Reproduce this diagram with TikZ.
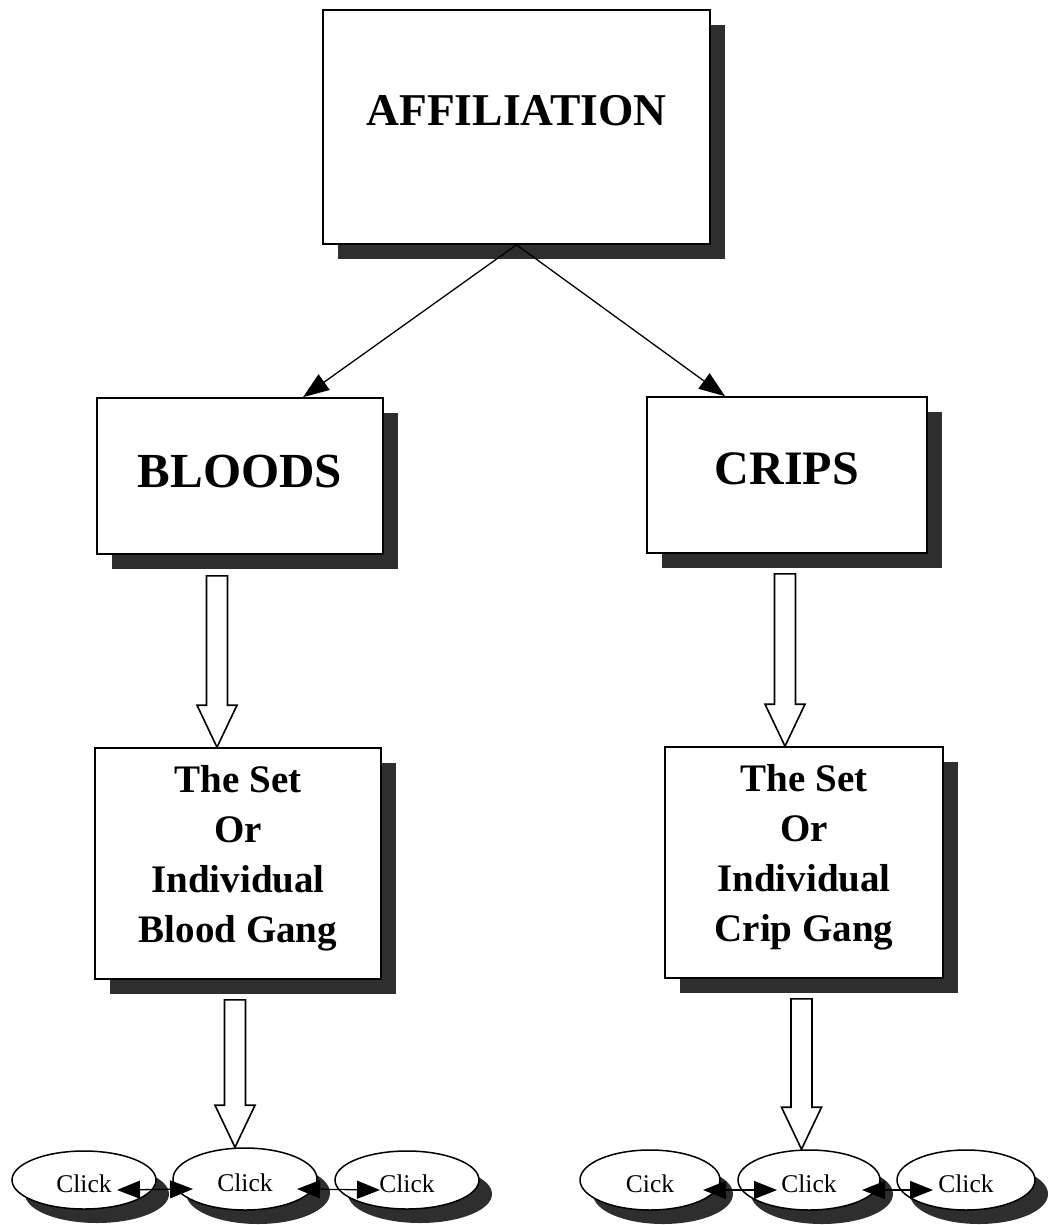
\documentclass[tikz,border=0pt]{standalone}
\usepackage{fontspec}
\setmainfont{Liberation Serif}
\usetikzlibrary{calc,arrows.meta,shapes.geometric,shadows}
\newcommand{\hollowarrow}[2]{%
  \draw[hollow] ($(#1)+(-10.5,0)$) -- ($(#1)+(10.5,0)$) -- ($(#2)+(10.5,-42)$)
    -- ($(#2)+(20,-42)$) -- (#2) -- ($(#2)+(-20,-42)$) -- ($(#2)+(-10.5,-42)$) -- cycle;}
\begin{document}
\begin{tikzpicture}[x=1pt,y=-1pt,
  boxshade/.style={drop shadow={shadow xshift=15pt,shadow yshift=-15pt,fill=black!82,opacity=1}},
  ovalshade/.style={drop shadow={shadow xshift=13pt,shadow yshift=-14pt,fill=black!82,opacity=1}},
  box/.style={draw=black,line width=1.6pt,fill=white,rectangle,inner sep=0pt,align=center,boxshade},
  settext/.style={font=\bfseries\fontsize{39}{50}\selectfont,text depth=20pt},
  oval/.style={draw=black,line width=1.5pt,fill=white,ellipse,inner sep=0pt,
    font=\fontsize{25.5}{27}\selectfont,text height=25pt,ovalshade},
  thinarr/.style={line width=1.3pt,-{Triangle[length=26pt,width=19pt]}},
  biarr/.style={line width=1.3pt,{Triangle[length=23pt,width=18pt]}-{Triangle[length=23pt,width=18pt]}},
  hollow/.style={draw=black,line width=1.6pt,fill=white,line join=miter}
]
\useasboundingbox (0,0) rectangle (1048,1225);

% top box
\node[box,minimum width=387pt,minimum height=234pt,
  font=\bfseries\fontsize{45.5}{50}\selectfont,text depth=34pt] (aff) at (516.5,127) {AFFILIATION};

% second level
\node[box,minimum width=286pt,minimum height=156pt,
  font=\bfseries\fontsize{49}{54}\selectfont,text depth=10pt] (bl) at (240,476) {BLOODS};
\node[box,minimum width=280pt,minimum height=156pt,
  font=\bfseries\fontsize{48}{54}\selectfont,text depth=12pt] (cr) at (787,475) {CRIPS};

% third level
\node[box,settext,minimum width=286pt,minimum height=231pt] (setl) at (238,863.5)
  {The Set\\Or\\Individual\\Blood Gang};
\node[box,settext,minimum width=278pt,minimum height=231pt] (setr) at (804,862.5)
  {The Set\\Or\\Individual\\Crip Gang};

% ovals left
\node[oval,minimum width=144pt,minimum height=58pt] (l1) at (84,1180) {Click};
\node[oval,minimum width=144pt,minimum height=62pt] (l2) at (245,1179) {Click};
\node[oval,minimum width=144pt,minimum height=58pt] (l3) at (407,1180) {Click};
% ovals right
\node[oval,minimum width=140pt,minimum height=60pt] (r1) at (650,1180) {Cick};
\node[oval,minimum width=142pt,minimum height=60pt] (r2) at (809,1180) {Click};
\node[oval,minimum width=138pt,minimum height=60pt] (r3) at (966,1180) {Click};

% diagonal connectors
\draw[thinarr] (aff.south) -- ([xshift=63pt]bl.north);
\draw[thinarr] (aff.south) -- ([xshift=-62pt]cr.north);

% hollow block arrows
\path (217,0 |- bl.south) ++(0,21) coordinate (u1s);
\path (217,0 |- setl.north) coordinate (u1e);
\path (785,0 |- cr.south) ++(0,20) coordinate (u2s);
\path (785,0 |- setr.north) coordinate (u2e);
\path (235,0 |- setl.south) ++(0,20) coordinate (d1s);
\path (235,0 |- l2.north) coordinate (d1e);
\path (801.5,0 |- setr.south) ++(0,20) coordinate (d2s);
\path (801.5,0 |- r2.north) coordinate (d2e);
\hollowarrow{u1s}{u1e}
\hollowarrow{u2s}{u2e}
\hollowarrow{d1s}{d1e}
\hollowarrow{d2s}{d2e}

% double arrows between ovals
\draw[biarr] ([shift={(33,10)}]l1.center) -- ([shift={(-52,10)}]l2.center);
\draw[biarr] ([shift={(52,10)}]l2.center) -- ([shift={(-27,10)}]l3.center);
\draw[biarr] ([shift={(53,10)}]r1.center) -- ([shift={(-32,10)}]r2.center);
\draw[biarr] ([shift={(53,10)}]r2.center) -- ([shift={(-33,10)}]r3.center);
\end{tikzpicture}
\end{document}
